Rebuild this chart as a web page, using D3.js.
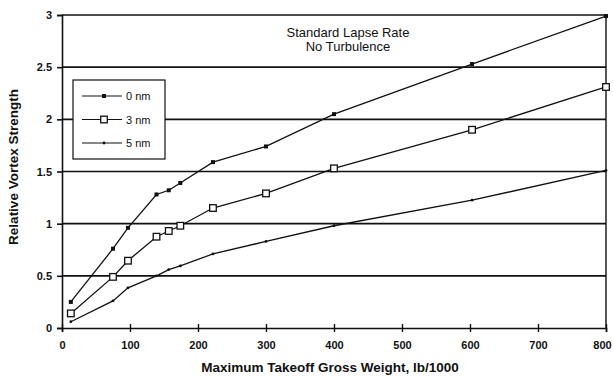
<!DOCTYPE html>
<html>
<head>
<meta charset="utf-8">
<script src="https://cdn.jsdelivr.net/npm/d3@7"></script>
<style>
  body { margin: 0; background: #fff; }
  text { font-family: "Liberation Sans", Arial, sans-serif; fill: #111; }
</style>
</head>
<body>
<div id="chart"></div>
<script>
var svgWidth = 613;
var svgHeight = 377;

var margin = { top: 15, right: 7, bottom: 49, left: 62 };
var width = svgWidth - margin.left - margin.right;
var height = svgHeight - margin.top - margin.bottom;

// values
var weights = [13, 75, 97, 139, 157, 174, 222, 300, 400, 603, 800];
var nm0 = [0.25, 0.76, 0.96, 1.28, 1.32, 1.39, 1.59, 1.74, 2.05, 2.53, 2.99];
var nm3 = [0.14, 0.49, 0.645, 0.875, 0.93, 0.98, 1.15, 1.29, 1.53, 1.90, 2.31];
var nm5 = [0.06, 0.26, 0.385, 0.50, 0.56, 0.595, 0.71, 0.83, 0.98, 1.225, 1.51];
var seriesNames = ["0 nm", "3 nm", "5 nm"];
var xTicks = [0, 100, 200, 300, 400, 500, 600, 700, 800];
var yTicks = [0, 0.5, 1, 1.5, 2, 2.5, 3];

var series = [
  { name: seriesNames[0], values: nm0, marker: "filled" },
  { name: seriesNames[1], values: nm3, marker: "open" },
  { name: seriesNames[2], values: nm5, marker: "dot" }
];

var svg = d3.select("#chart")
  .append("svg")
  .attr("width", svgWidth)
  .attr("height", svgHeight);

var chartGroup = svg.append("g")
  .attr("transform", `translate(${margin.left}, ${margin.top})`);

var x = d3.scaleLinear().domain([0, 800]).range([0, width]);
var y = d3.scaleLinear().domain([0, 3]).range([height, 0]);

// horizontal grid lines
chartGroup.selectAll(".grid")
  .data(yTicks.filter(d => d > 0))
  .enter().append("line")
  .attr("x1", 0).attr("x2", width)
  .attr("y1", d => y(d)).attr("y2", d => y(d))
  .attr("stroke", "#111").attr("stroke-width", 1.6);

// right frame line
chartGroup.append("line")
  .attr("x1", width).attr("x2", width)
  .attr("y1", 0).attr("y2", height)
  .attr("stroke", "#111").attr("stroke-width", 1.4);

// left axis
var leftAxis = d3.axisLeft(y).tickValues(yTicks).tickSize(5).tickPadding(5)
  .tickFormat(d3.format("~g"));
var gy = chartGroup.append("g").call(leftAxis);
gy.select(".domain").attr("stroke", "#111").attr("stroke-width", 1.6);
gy.selectAll("line").attr("stroke", "#111").attr("stroke-width", 1.6);
gy.selectAll("text").style("font-size", "11px").style("font-weight", "bold");

// bottom axis with crossing ticks
var bottomAxis = d3.axisBottom(x).tickValues(xTicks).tickSize(4).tickPadding(9);
var gx = chartGroup.append("g")
  .attr("transform", `translate(0, ${height})`)
  .call(bottomAxis);
gx.select(".domain").attr("stroke", "#111").attr("stroke-width", 1.6);
gx.selectAll(".tick line").attr("y1", -4).attr("stroke", "#111").attr("stroke-width", 1.4);
gx.selectAll("text").style("font-size", "11px").style("font-weight", "bold")
  .filter(d => d === 800).attr("dx", -4);

var line = d3.line()
  .x((d, i) => x(weights[i]))
  .y(d => y(d));

function drawMarker(g, kind) {
  if (kind === "filled") {
    g.append("rect").attr("x", -2).attr("y", -2).attr("width", 4).attr("height", 4)
      .attr("fill", "#111");
  } else if (kind === "open") {
    g.append("rect").attr("x", -3.3).attr("y", -3.3).attr("width", 6.6).attr("height", 6.6)
      .attr("fill", "#fff").attr("stroke", "#111").attr("stroke-width", 1.3);
  } else {
    g.append("circle").attr("r", 1.4).attr("fill", "#111");
  }
}

series.forEach(function(s) {
  chartGroup.append("path")
    .datum(s.values)
    .attr("d", line)
    .attr("fill", "none")
    .attr("stroke", "#111")
    .attr("stroke-width", 1.3);

  chartGroup.selectAll(null)
    .data(s.values)
    .enter().append("g")
    .attr("transform", (d, i) => `translate(${x(weights[i])}, ${y(d)})`)
    .each(function() { drawMarker(d3.select(this), s.marker); });
});

// legend
var legend = svg.append("g").attr("transform", "translate(73, 80)");
legend.append("rect")
  .attr("width", 92).attr("height", 79)
  .attr("fill", "#fff").attr("stroke", "#111").attr("stroke-width", 1.2);
series.forEach(function(s, i) {
  var row = legend.append("g").attr("transform", `translate(0, ${16 + i * 23.5})`);
  row.append("line").attr("x1", 9).attr("x2", 49).attr("y1", 0).attr("y2", 0)
    .attr("stroke", "#111").attr("stroke-width", 1.2);
  var m = row.append("g").attr("transform", "translate(31, 0)");
  drawMarker(m, s.marker);
  row.append("text").attr("x", 53).attr("y", 4)
    .style("font-size", "11px").text(s.name);
});

// annotation
svg.append("text")
  .attr("x", 348).attr("y", 37)
  .attr("text-anchor", "middle")
  .style("font-size", "13px")
  .text("Standard Lapse Rate");
svg.append("text")
  .attr("x", 348).attr("y", 51)
  .attr("text-anchor", "middle")
  .style("font-size", "13px")
  .text("No Turbulence");

// axis titles
svg.append("text")
  .attr("x", 330).attr("y", 372)
  .attr("text-anchor", "middle")
  .style("font-size", "13.5px").style("font-weight", "bold")
  .text("Maximum Takeoff Gross Weight, lb/1000");

svg.append("text")
  .attr("transform", "translate(18, 167) rotate(-90)")
  .attr("text-anchor", "middle")
  .style("font-size", "13.5px").style("font-weight", "bold")
  .text("Relative Vortex Strength");
</script>
</body>
</html>
